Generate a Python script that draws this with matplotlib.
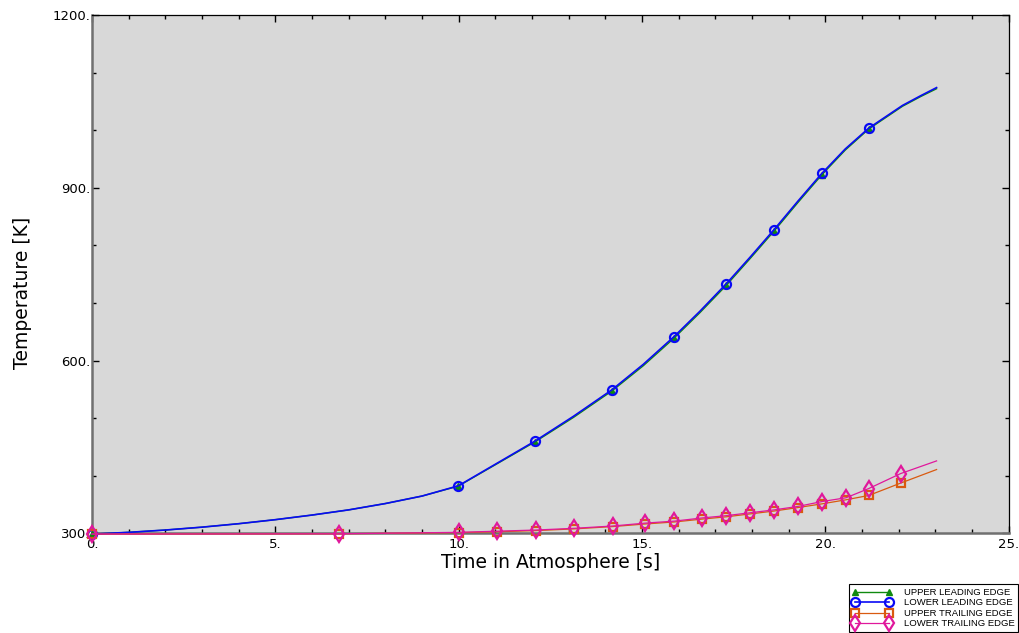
import matplotlib
matplotlib.use("Agg")
import matplotlib.pyplot as plt
from matplotlib.ticker import MultipleLocator, FuncFormatter

# --- leading edge histories (time [s], temperature [K]) -------------------
t_lead = [0.0, 1.0, 2.0, 3.0, 4.0, 5.0, 6.0, 7.0, 8.0, 9.0, 9.99,
          12.08, 13.13, 14.18, 15.03, 15.87, 16.58, 17.30, 17.95, 18.60,
          19.25, 19.90, 20.54, 21.18, 22.10, 22.60, 23.03]
T_lower_lead = [299, 302, 306, 311, 317, 324, 332, 341, 352, 365, 382.8,
                460.4, 503.5, 549.6, 593.5, 641.7, 686, 733.8, 780, 827.6,
                877, 924.9, 967.5, 1003.6, 1043, 1060, 1074]
T_upper_lead = [299, 302, 306, 311, 317, 324, 332, 341, 352, 365, 382.3,
                459.0, 501.5, 547.5, 591.0, 639.0, 683.5, 731.0, 777.5, 825.0,
                874.5, 922.5, 965.5, 1002.0, 1041.5, 1058.5, 1072]
# indices of the output frames that carry a symbol
mk_lead = [0, 10, 11, 13, 15, 17, 19, 21, 23]

# --- trailing edge histories ----------------------------------------------
t_trail = [0.0, 6.73, 10.0, 11.04, 12.10, 13.15, 14.20, 15.08, 15.88,
           16.64, 17.30, 17.95, 18.60, 19.25, 19.91, 20.56, 21.18, 22.05,
           23.03]
T_lower_trail = [299, 299.5, 302, 304, 306, 309, 313, 318, 321.5, 327, 331,
                 336, 341, 347, 355.5, 362, 378, 404, 426]
T_upper_trail = [299, 299.5, 301.5, 303, 305, 308, 312, 316.5, 320, 325, 329,
                 334, 339, 345, 351.5, 358.5, 366, 387.5, 411]
mk_trail = list(range(len(t_trail) - 1))

fig = plt.figure(figsize=(10.19, 6.33), dpi=100)
ax = fig.add_axes([0.0903, 0.1572, 0.8997, 0.8191])
ax.set_facecolor("#d8d8d8")

ax.plot(t_lead, T_upper_lead, color="#108a10", lw=1.0, marker="^",
        markevery=mk_lead, ms=5, clip_on=False, zorder=3,
        label="UPPER LEADING EDGE")
ax.plot(t_lead, T_lower_lead, color="#0a0af5", lw=1.2, marker="o",
        markevery=mk_lead, ms=6.5, mfc="none", mew=1.6, clip_on=False,
        zorder=3, label="LOWER LEADING EDGE")
ax.plot(t_trail, T_upper_trail, color="#d95a10", lw=0.9, marker="s",
        markevery=mk_trail, ms=6, mfc="none", mew=1.6, clip_on=False,
        zorder=3, label="UPPER TRAILING EDGE")
ax.plot(t_trail, T_lower_trail, color="#e0189c", lw=0.9, marker="d",
        markevery=mk_trail, ms=8, mfc="none", mew=1.6, clip_on=False,
        zorder=3, label="LOWER TRAILING EDGE")

ax.set_xlim(0, 25)
ax.set_ylim(300, 1200)
ax.xaxis.set_major_locator(MultipleLocator(5))
ax.xaxis.set_minor_locator(MultipleLocator(1))
ax.yaxis.set_major_locator(MultipleLocator(300))
ax.yaxis.set_minor_locator(MultipleLocator(100))
dot = FuncFormatter(lambda v, pos: f"{v:.0f}.")
ax.xaxis.set_major_formatter(dot)
ax.yaxis.set_major_formatter(dot)

ax.tick_params(which="both", direction="in", top=True, right=True,
               labelsize=9.5, pad=1, color="black")
ax.tick_params(axis="x", pad=3)
ax.tick_params(which="major", length=5, width=1)
ax.tick_params(which="minor", length=3, width=1)
for lab in ax.get_yticklabels():
    lab.set_verticalalignment("center_baseline")

for side in ("left", "bottom"):
    ax.spines[side].set_color("#707070")
    ax.spines[side].set_linewidth(1.8)
for side in ("top", "right"):
    ax.spines[side].set_color("black")
    ax.spines[side].set_linewidth(0.9)

ax.set_xlabel("Time in Atmosphere [s]", fontsize=13.5)
ax.set_ylabel("Temperature [K]", fontsize=13.5)
ax.xaxis.set_label_coords(0.5, -0.038)
ax.yaxis.set_label_coords(-0.066, 0.464)

leg = fig.legend(loc="lower right", bbox_to_anchor=(1.0, 0.0),
                 frameon=True, fancybox=False, numpoints=2,
                 edgecolor="black", framealpha=1, handlelength=4.2,
                 borderpad=0.4, labelspacing=0.15, handletextpad=1.2,
                 borderaxespad=0.1,
                 prop={"family": "Liberation Sans", "size": 6.8})
leg.get_frame().set_linewidth(0.8)

fig.savefig("out.png", dpi=100)
